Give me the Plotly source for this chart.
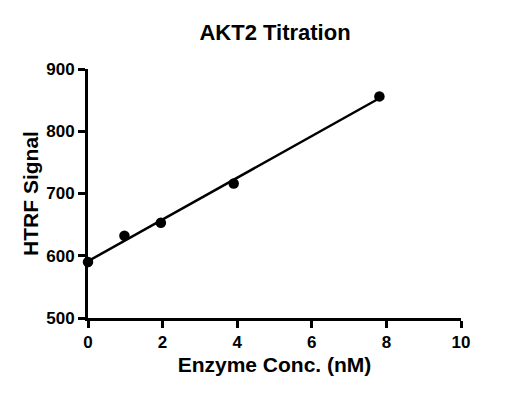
import numpy as np
import plotly.graph_objects as go

conc = [0, 0.977, 1.953, 3.906, 7.8125]
signal = [590, 632, 653, 716, 856]
x_ticks = [0, 2, 4, 6, 8, 10]
y_ticks = [500, 600, 700, 800, 900]

slope, intercept = np.polyfit(conc, signal, 1)
fit_x = [min(conc), max(conc)]
fit_y = [slope * v + intercept for v in fit_x]

font = "Liberation Sans, Arial, sans-serif"
fig = go.Figure()
fig.add_trace(go.Scatter(x=fit_x, y=fit_y, mode="lines",
                         line=dict(color="black", width=2.5), cliponaxis=False,
                         showlegend=False, hoverinfo="skip"))
fig.add_trace(go.Scatter(x=conc, y=signal, mode="markers",
                         marker=dict(color="black", size=10.5), cliponaxis=False,
                         showlegend=False))

W, H = 519, 396
fig.update_layout(
    width=W, height=H,
    margin=dict(l=80, r=66, t=61, b=86, autoexpand=False),
    paper_bgcolor="white", plot_bgcolor="white",
    font=dict(family=font, color="black"),
    title=dict(text="<b>AKT2 Titration</b>", x=267 / W, xanchor="center",
               y=1 - 24 / H, yanchor="middle", font=dict(size=22, family=font)),
)
fig.update_xaxes(range=[0, 10], tickvals=x_ticks, ticktext=[f"<b>{v}</b>" for v in x_ticks],
                 showline=True, linecolor="black", linewidth=3, mirror=False,
                 ticks="outside", ticklen=7, tickwidth=3, tickcolor="black",
                 showgrid=False, zeroline=False, tickfont=dict(size=17), automargin=False,
                 title=dict(text="<b>Enzyme Conc. (nM)</b>", font=dict(size=21), standoff=6))
fig.update_yaxes(range=[500, 900], tickvals=y_ticks, ticktext=[f"<b>{v}</b>" for v in y_ticks],
                 showline=True, linecolor="black", linewidth=3, mirror=False,
                 ticks="outside", ticklen=7, tickwidth=3, tickcolor="black",
                 showgrid=False, zeroline=False, tickfont=dict(size=17), automargin=False,
                 title=dict(text="<b>HTRF Signal</b>", font=dict(size=21), standoff=2))

fig.write_html("out.html")
